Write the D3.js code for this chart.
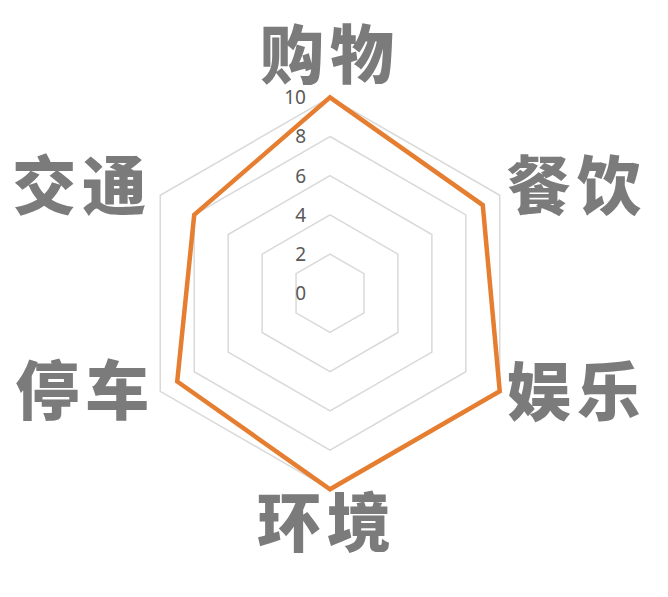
<!DOCTYPE html>
<html><head><meta charset="utf-8">
<script src="https://cdn.jsdelivr.net/npm/d3@7"></script>
<style>html,body{margin:0;padding:0;background:#fff;}svg{display:block;}</style>
</head><body>
<svg id="chart" width="668" height="597"></svg>
<script>
const categories = ["购物", "餐饮", "娱乐", "环境", "停车", "交通"];
const values = [10, 9, 10, 10, 9, 8];
const tickValues = [0, 2, 4, 6, 8, 10];
const gridLevels = [2, 4, 6, 8, 10];

const svg = d3.select("#chart");
const cx = 330, cy = 293.3;
const r = d3.scaleLinear().domain([0, 10]).range([0, 196]);
const angle = d3.scaleLinear().domain([0, categories.length]).range([0, 2 * Math.PI]);
const pt = (i, v) => [cx + r(v) * Math.sin(angle(i)), cy - r(v) * Math.cos(angle(i))];

const g = svg.append("g");
const line = d3.line().curve(d3.curveLinearClosed);

// grid hexagons
g.selectAll("path.grid").data(gridLevels).join("path")
  .attr("class", "grid")
  .attr("d", lv => line(categories.map((c, i) => pt(i, lv))))
  .attr("fill", "none").attr("stroke", "#d9d9d9").attr("stroke-width", 1.5);

// tick labels
g.selectAll("text.tick").data(tickValues).join("text")
  .attr("class", "tick")
  .attr("x", cx - 24).attr("y", v => cy - r(v))
  .attr("dy", "0.36em")
  .attr("text-anchor", "end")
  .attr("font-family", "'Noto Sans', 'Open Sans', sans-serif")
  .attr("font-size", 19).attr("fill", "#595959")
  .text(d => d);

// data polygon
g.append("path")
  .attr("d", line(values.map((v, i) => pt(i, v))))
  .attr("fill", "none").attr("stroke", "#E57E31").attr("stroke-width", 4.5)
  .attr("stroke-linejoin", "miter");

// category labels
const labelCfg = [
  {anchor: "middle", dx: 0, dy: -42},
  {anchor: "start", dx: 7, dy: -9},
  {anchor: "start", dx: 7, dy: 1},
  {anchor: "middle", dx: -3, dy: 34},
  {anchor: "end", dx: -5, dy: 0},
  {anchor: "end", dx: -8, dy: -9}
];
g.selectAll("text.cat").data(categories).join("text")
  .attr("class", "cat")
  .attr("x", (c, i) => pt(i, 10)[0] + labelCfg[i].dx)
  .attr("y", (c, i) => pt(i, 10)[1] + labelCfg[i].dy)
  .attr("dy", "0.35em")
  .attr("text-anchor", (c, i) => labelCfg[i].anchor)
  .attr("font-family", "'Noto Sans CJK SC', sans-serif")
  .attr("font-weight", 900)
  .attr("font-size", 64)
  .attr("letter-spacing", 6)
  .attr("fill", "#7b7b7b")
  .text(d => d);
</script>
</body></html>
